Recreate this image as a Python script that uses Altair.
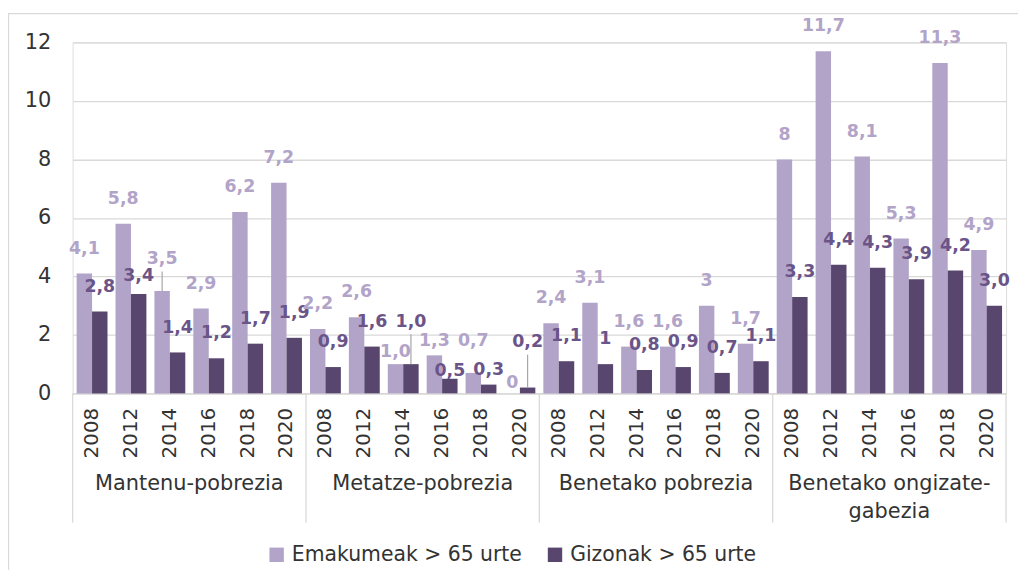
import altair as alt
import pandas as pd

# ---- data ----
groups = ["Mantenu-pobrezia", "Metatze-pobrezia", "Benetako pobrezia", "Benetako ongizate-\ngabezia"]
years = ["2008", "2012", "2014", "2016", "2018", "2020"]
series = ["Emakumeak > 65 urte", "Gizonak > 65 urte"]

women = [4.1, 5.8, 3.5, 2.9, 6.2, 7.2,
         2.2, 2.6, 1.0, 1.3, 0.7, 0.0,
         2.4, 3.1, 1.6, 1.6, 3.0, 1.7,
         8.0, 11.7, 8.1, 5.3, 11.3, 4.9]
men = [2.8, 3.4, 1.4, 1.2, 1.7, 1.9,
       0.9, 1.6, 1.0, 0.5, 0.3, 0.2,
       1.1, 1.0, 0.8, 0.9, 0.7, 1.1,
       3.3, 4.4, 4.3, 3.9, 4.2, 3.0]
women_labels = ["4,1", "5,8", "3,5", "2,9", "6,2", "7,2",
                "2,2", "2,6", "1,0", "1,3", "0,7", "0",
                "2,4", "3,1", "1,6", "1,6", "3", "1,7",
                "8", "11,7", "8,1", "5,3", "11,3", "4,9"]
men_labels = ["2,8", "3,4", "1,4", "1,2", "1,7", "1,9",
              "0,9", "1,6", "1,0", "0,5", "0,3", "0,2",
              "1,1", "1", "0,8", "0,9", "0,7", "1,1",
              "3,3", "4,4", "4,3", "3,9", "4,2", "3,0"]
# labels that were moved in the original (value units)
women_label_lift = [0, 0, 0.25, 0, 0, 0,
                    0, 0, -0.45, -0.35, 0.25, -0.5,
                    0, 0, 0, 0, 0, 0,
                    0, 0, 0, 0, 0, 0]
men_label_lift = [0, -0.25, 0, 0, 0, 0,
                  0, 0, 0.6, -0.6, -0.35, 0.7,
                  0, 0, 0, 0, 0, 0,
                  0, 0, 0, 0, 0, 0]
# labels joined to their bar by a leader line
women_leader = [2]
men_leader = [8, 11]
y_ticks = [0, 2, 4, 6, 8, 10, 12]

# ---- tables ----
keys = [f"{gi}|{y}" for gi in range(len(groups)) for y in years]
rows = []
for i, k in enumerate(keys):
    rows.append({"key": k, "series": series[0], "value": women[i], "label": women_labels[i],
                 "lift": women_label_lift[i], "leader": i in women_leader})
    rows.append({"key": k, "series": series[1], "value": men[i], "label": men_labels[i],
                 "lift": men_label_lift[i], "leader": i in men_leader})
df = pd.DataFrame(rows)

grp_df = pd.DataFrame({"key": [f"{gi}|2014" for gi in range(len(groups))], "name": groups})
sep_start = pd.DataFrame({"key": [f"{gi}|2008" for gi in range(len(groups))]})
sep_end = pd.DataFrame({"key": [keys[-1]]})

LIGHT = "#b2a4c8"
DARK = "#58466e"
LIGHT_LBL = "#b2a4c8"
DARK_LBL = "#6a5488"
GRID = "#d9d9d9"
TXT = "#333333"
FONT = "DejaVu Sans"

W, H = 939, 353

x_enc = alt.X("key:N", sort=keys,
              scale=alt.Scale(paddingInner=0, paddingOuter=0),
              axis=alt.Axis(title=None, labelAngle=-90, labelExpr="split(datum.label,'|')[1]",
                            ticks=False, labelPadding=14, labelFont=FONT, labelFontSize=20,
                            labelColor=TXT, domainColor=GRID, domainWidth=1.3, grid=False))
xoff = alt.XOffset("series:N", sort=series, scale=alt.Scale(paddingOuter=0.26, paddingInner=0))
y_enc = alt.Y("value:Q", scale=alt.Scale(domain=[0, 12], nice=False),
              axis=alt.Axis(title=None, values=y_ticks, ticks=False, domain=False,
                            labelPadding=22, labelFont=FONT, labelFontSize=21, labelColor=TXT,
                            gridColor=GRID, gridWidth=1.3))

border = alt.Chart(pd.DataFrame({"a": [0]})).mark_rect(fill=None, stroke=GRID, strokeWidth=1.3).encode(
    x=alt.value(-64.5), x2=alt.value(W + 200), y=alt.value(-29), y2=alt.value(H + 400))

bars = alt.Chart(df).mark_bar().encode(
    x=x_enc, xOffset=xoff, y=y_enc,
    color=alt.Color("series:N", sort=series,
                    scale=alt.Scale(domain=series, range=[LIGHT, DARK]),
                    legend=alt.Legend(title=None, orient="none", direction="horizontal",
                                      legendX=195, legendY=505, symbolType="square",
                                      symbolSize=210, symbolStrokeWidth=0, labelFont=FONT,
                                      labelFontSize=20.5, labelColor=TXT, labelOffset=5,
                                      labelLimit=500, columnPadding=22, padding=0)))

labels = alt.Chart(df).transform_calculate(ly="datum.value + datum.lift").mark_text(
    baseline="middle", dy=-25, font=FONT, fontSize=17.5, fontWeight="bold").encode(
    x=alt.X("key:N", sort=keys), xOffset=alt.XOffset("series:N", sort=series), y="ly:Q",
    text="label:N",
    color=alt.when(alt.datum.series == series[0]).then(alt.value(LIGHT_LBL)).otherwise(alt.value(DARK_LBL)))

leaders = alt.Chart(df).transform_filter("datum.leader").transform_calculate(
    ly2="datum.value + datum.lift + 0.42").mark_rule(color="#a6a6a6", strokeWidth=1.2).encode(
    x=alt.X("key:N", sort=keys), xOffset=alt.XOffset("series:N", sort=series),
    y="value:Q", y2="ly2:Q")

rules_a = alt.Chart(sep_start).mark_rule(color=GRID, strokeWidth=1.3).encode(
    x=alt.X("key:N", sort=keys, bandPosition=0), y=alt.value(H), y2=alt.value(H + 130))
rules_b = alt.Chart(sep_end).mark_rule(color=GRID, strokeWidth=1.3).encode(
    x=alt.X("key:N", sort=keys, bandPosition=1), y=alt.value(H), y2=alt.value(H + 130))

grp_text = alt.Chart(grp_df).mark_text(baseline="top", align="center", font=FONT, fontSize=21,
                                       color=TXT, lineBreak="\n", lineHeight=28).encode(
    x=alt.X("key:N", sort=keys, bandPosition=1), y=alt.value(H + 80), text="name:N")

chart = alt.layer(border, bars, leaders, labels, rules_a, rules_b, grp_text).properties(
    width=W, height=H,
    autosize=alt.AutoSizeParams(type="none"),
    padding={"left": 65, "top": 33, "right": 12, "bottom": 176},
).configure_view(stroke=None).configure(background="white")

chart.save("out.html", embed_options={"renderer": "svg", "actions": False})
